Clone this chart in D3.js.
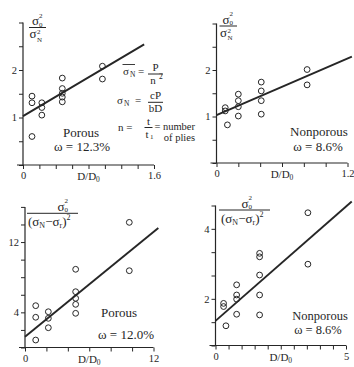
<!DOCTYPE html>
<html>
<head>
<meta charset="utf-8">
<script src="https://cdn.jsdelivr.net/npm/d3@7"></script>
<style>
body { margin: 0; background: #fff; }
svg { display: block; }
text { font-family: 'Liberation Serif', 'Times New Roman', serif; fill: #262626; }
</style>
</head>
<body>
<svg width="354" height="367"></svg>
<script>
// top left: porous, sigma0^2 / sigmaN^2
const porousX = [0.11, 0.11, 0.11, 0.23, 0.23, 0.23, 0.48, 0.48, 0.48, 0.48, 0.48, 0.97, 0.97];
const porousY = [1.45, 1.31, 0.60, 1.31, 1.21, 1.05, 1.83, 1.61, 1.51, 1.43, 1.33, 2.08, 1.81];
const porousFitX = [0, 1.48];
const porousFitY = [1.03, 2.54];

// top right: nonporous, sigma0^2 / sigmaN^2
const nonporousX = [0.08, 0.08, 0.10, 0.20, 0.20, 0.20, 0.20, 0.41, 0.41, 0.41, 0.41, 0.83, 0.83];
const nonporousY = [1.19, 1.12, 0.82, 1.48, 1.34, 1.21, 1.01, 1.74, 1.55, 1.34, 1.05, 2.01, 1.68];
const nonporousFitX = [0, 1.24];
const nonporousFitY = [1.03, 2.29];

// bottom left: porous, sigma0^2 / (sigmaN - sigmar)^2
const porousRX = [1.0, 1.0, 1.0, 2.18, 2.18, 2.18, 4.73, 4.73, 4.73, 4.73, 4.73, 9.74, 9.74];
const porousRY = [4.76, 3.44, 0.85, 4.07, 3.32, 2.25, 8.9, 6.35, 5.6, 4.91, 3.89, 14.24, 8.74];
const porousRFitX = [0, 12.45];
const porousRFitY = [1.23, 13.6];

// bottom right: nonporous, sigma0^2 / (sigmaN - sigmar)^2
const nonporousRX = [0.40, 0.31, 0.31, 0.81, 0.81, 0.81, 0.81, 1.69, 1.69, 1.69, 1.69, 1.69, 3.54, 3.54];
const nonporousRY = [1.23, 1.87, 1.78, 2.40, 2.11, 1.99, 1.56, 3.30, 3.20, 2.68, 2.11, 1.54, 4.46, 2.99];
const nonporousRFitX = [0, 5.22];
const nonporousRFitY = [1.37, 4.78];

// ticks and labels
const xTicks1 = [0, 0.2, 0.4, 0.6, 0.8, 1.0, 1.2, 1.4, 1.6];
const xTicks2 = [0, 0.2, 0.4, 0.6, 0.8, 1.0, 1.2];
const xTicks3 = [0, 2, 4, 6, 8, 10, 12];
const xTicks4 = [0, 0.5, 1, 1.5, 2, 2.5, 3, 3.5, 4, 4.5, 5];
const yTicks12 = [0, 0.5, 1, 1.5, 2, 2.5, 3];
const yTicks3 = [0, 2, 4, 6, 8, 10, 12, 14, 16];
const yTicks4 = [2 / 3, 4 / 3, 2, 8 / 3, 10 / 3, 4, 14 / 3];

const ink = "#262626";
const svg = d3.select("svg");

const panels = [
    { xs: porousX, ys: porousY, fx: porousFitX, fy: porousFitY,
      xDomain: [0, 1.6], xRange: [23, 154], yDomain: [0, 3], yRange: [165, 22.5],
      xTicks: xTicks1, xLab: { 0: "0", 1.6: "1.6" }, yTicks: yTicks12, yLab: { 1: "1", 2: "2" } },
    { xs: nonporousX, ys: nonporousY, fx: nonporousFitX, fy: nonporousFitY,
      xDomain: [0, 1.2], xRange: [216.5, 347.5], yDomain: [0, 3], yRange: [163, 23.5],
      xTicks: xTicks2, xLab: { 0: "0", 1.2: "1.2" }, yTicks: yTicks12, yLab: { 1: "1", 2: "2" } },
    { xs: porousRX, ys: porousRY, fx: porousRFitX, fy: porousRFitY,
      xDomain: [0, 12], xRange: [25, 153.5], yDomain: [0, 16], yRange: [347.5, 206.9],
      xTicks: xTicks3, xLab: { 0: "0", 12: "12" }, yTicks: yTicks3, yLab: { 4: "4", 12: "12" } },
    { xs: nonporousRX, ys: nonporousRY, fx: nonporousRFitX, fy: nonporousRFitY,
      xDomain: [0, 5], xRange: [215.5, 346], yDomain: [2 / 3, 14 / 3], yRange: [345.5, 205.5],
      xTicks: xTicks4, xLab: { 0: "0", 5: "5" }, yTicks: yTicks4, yLab: { 2: "2", 4: "4" } }
];

function styleAxis(sel) {
    sel.select(".domain").remove();
    sel.selectAll("line").attr("stroke", ink).attr("stroke-width", 1);
    sel.selectAll("text").attr("font-size", 10.5).attr("fill", ink)
        .attr("font-family", "'Liberation Serif', serif");
}

panels.forEach((p) => {
    const g = svg.append("g");
    const x = d3.scaleLinear().domain(p.xDomain).range(p.xRange);
    const y = d3.scaleLinear().domain(p.yDomain).range(p.yRange);
    const x0 = x(p.xDomain[0]);
    const y0 = y(p.yDomain[0]);

    g.append("g")
        .attr("transform", `translate(0,${y0})`)
        .call(d3.axisBottom(x).tickValues(p.xTicks).tickSize(4).tickPadding(3)
            .tickFormat((d) => p.xLab[d] || ""))
        .call(styleAxis);

    g.append("g")
        .attr("transform", `translate(${x0},0)`)
        .call(d3.axisLeft(y).tickValues(p.yTicks).tickSize(4).tickPadding(2)
            .tickFormat((d) => p.yLab[Math.round(d * 1000) / 1000] || ""))
        .call(styleAxis);

    // axis lines, the x axis runs a little past the y axis
    g.append("line").attr("x1", x0 - 6).attr("x2", x(p.xDomain[1]))
        .attr("y1", y0).attr("y2", y0).attr("stroke", ink).attr("stroke-width", 1.2);
    g.append("line").attr("x1", x0).attr("x2", x0)
        .attr("y1", y0).attr("y2", y(p.yDomain[1])).attr("stroke", ink).attr("stroke-width", 1.2);

    // fitted line
    g.append("line")
        .attr("x1", x(p.fx[0])).attr("y1", y(p.fy[0]))
        .attr("x2", x(p.fx[1])).attr("y2", y(p.fy[1]))
        .attr("stroke", ink).attr("stroke-width", 1.9);

    g.selectAll("circle")
        .data(p.xs.map((v, i) => [v, p.ys[i]]))
        .enter()
        .append("circle")
        .attr("cx", (d) => x(d[0]))
        .attr("cy", (d) => y(d[1]))
        .attr("r", 2.9)
        .attr("fill", "none")
        .attr("stroke", ink)
        .attr("stroke-width", 1);

    // D/D0 label
    const xl = g.append("text")
        .attr("x", (x0 + x(p.xDomain[1])) / 2)
        .attr("y", y0 + 15)
        .attr("text-anchor", "middle")
        .attr("font-size", 11);
    xl.append("tspan").text("D/D");
    xl.append("tspan").attr("font-size", 7.5).attr("dy", 2).text("0");
});

// fraction labels on the y axes
function sigma0Sq(cx, by) {
    svg.append("text").attr("x", cx - 5.5).attr("y", by - 2.5).attr("font-size", 13).text("σ");
    svg.append("text").attr("x", cx + 1.5).attr("y", by - 10).attr("font-size", 7).text("2");
    svg.append("text").attr("x", cx + 1.5).attr("y", by - 1).attr("font-size", 7).text("0");
}
function bar(x1, x2, by) {
    svg.append("line").attr("x1", x1).attr("x2", x2).attr("y1", by).attr("y2", by)
        .attr("stroke", ink).attr("stroke-width", 1);
}
function sigmaNSq(cx, by) {
    svg.append("text").attr("x", cx - 8).attr("y", by + 10.5).attr("font-size", 13).text("σ");
    svg.append("text").attr("x", cx - 0.5).attr("y", by + 6.5).attr("font-size", 7).text("2");
    svg.append("text").attr("x", cx - 0.5).attr("y", by + 14).attr("font-size", 7).text("N");
}
function diffSq(x1, by) {
    const t = svg.append("text").attr("x", x1).attr("y", by + 13).attr("font-size", 13);
    t.append("tspan").text("(σ");
    t.append("tspan").attr("font-size", 8).attr("dy", 2).text("N");
    t.append("tspan").attr("dy", -2).text("−σ");
    t.append("tspan").attr("font-size", 8).attr("dy", 2).text("r");
    t.append("tspan").attr("dy", -2).text(")");
    t.append("tspan").attr("font-size", 8).attr("dy", -6).text("2");
}

sigma0Sq(37.5, 27.5); bar(29, 46, 27.5); sigmaNSq(37.5, 27.5);
sigma0Sq(228, 26); bar(219.5, 237, 26); sigmaNSq(228, 26);
sigma0Sq(63, 213.3); bar(27, 78, 213.3); diffSq(28, 213.3);
sigma0Sq(247, 210); bar(219, 270, 210); diffSq(221, 210);

// panel notes
function note(x, yb, s, size) {
    svg.append("text").attr("x", x).attr("y", yb).attr("font-size", size || 13)
        .attr("text-anchor", "middle").text(s);
}
note(81, 137, "Porous"); note(82, 151, "ω = 12.3%");
note(319, 136, "Nonporous"); note(318, 151, "ω = 8.6%");
note(119, 317, "Porous"); note(126, 339, "ω = 12.0%");
note(320, 319.5, "Nonporous", 12.5); note(318, 334, "ω = 8.6%", 12.5);

// formulas in the top left panel
const fs = 11;
function txt(x, yb, s, size, anchor) {
    return svg.append("text").attr("x", x).attr("y", yb).attr("font-size", size || fs)
        .attr("text-anchor", anchor || "start").text(s);
}
txt(123, 75, "σ"); txt(130, 77, "N", 7.5);
svg.append("line").attr("x1", 122.5).attr("x2", 135).attr("y1", 64.5).attr("y2", 64.5)
    .attr("stroke", ink).attr("stroke-width", 0.9);
txt(138, 75, "=");
txt(155.5, 71, "P", fs, "middle"); bar(148, 163, 74); txt(153, 84, "n", fs, "middle"); txt(159, 79, "2", 7.5);

txt(117, 104, "σ"); txt(124, 106, "N", 7.5);
txt(135, 104, "=");
txt(155.5, 99, "cP", fs, "middle"); bar(148, 163, 102.3); txt(155.5, 112, "bD", fs, "middle");

txt(118, 131, "n =");
txt(148.5, 125, "t", fs, "middle"); bar(144.5, 152.5, 127.5);
txt(147, 137.5, "t", fs, "middle"); txt(150, 139, "1", 7);
txt(195, 129.5, "= number", 10.5, "end");
txt(195, 140.5, "of plies", 10.5, "end");
</script>
</body>
</html>
